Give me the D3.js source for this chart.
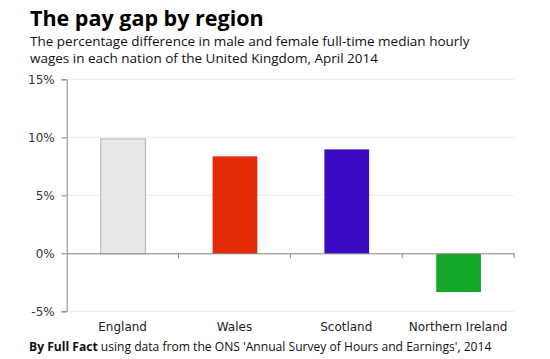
<!DOCTYPE html>
<html><head><meta charset="utf-8">
<script src="https://d3js.org/d3.v7.min.js"></script>
<style>body{margin:0;background:#fff}svg{display:block}</style>
</head><body>
<script>
const categories = ["England", "Wales", "Scotland", "Northern Ireland"];
const values = [9.9, 8.4, 9.0, -3.3];
const colors = ["#e8e8e8", "#e52a0a", "#3a0ac4", "#13a829"];
const strokes = ["#bdbdbd", "none", "none", "none"];
const yTicks = [-5, 0, 5, 10, 15];

const W = 550, H = 359;
const svg = d3.select("body").append("svg").attr("width", W).attr("height", H);

const x = d3.scaleBand().domain(categories).range([66.7, 514]).paddingInner(0.6).paddingOuter(0.3);
const y = d3.scaleLinear().domain([-5, 15]).range([311.3, 79.3]);

// gridlines
svg.append("g").selectAll("line").data(yTicks).join("line")
  .attr("x1", 66.7).attr("x2", 514)
  .attr("y1", d => y(d)).attr("y2", d => y(d))
  .attr("stroke", "#ececec").attr("stroke-width", 1);

// bars
svg.append("g").selectAll("rect").data(categories).join("rect")
  .attr("x", d => x(d) + 0.5)
  .attr("width", x.bandwidth())
  .attr("y", (d, i) => y(Math.max(0, values[i])) + 0.5)
  .attr("height", (d, i) => Math.abs(y(values[i]) - y(0)))
  .attr("fill", (d, i) => colors[i])
  .attr("stroke", (d, i) => strokes[i])
  .attr("stroke-width", 1.2);

// y axis
const yAxis = svg.append("g").attr("transform", "translate(66.7,0)")
  .call(d3.axisLeft(y).tickValues(yTicks).tickFormat(d => d + "%").tickSizeOuter(0).tickSize(5));
yAxis.select(".domain").attr("stroke", "#888");
yAxis.selectAll(".tick line").attr("stroke", "#888");
yAxis.selectAll(".tick text").attr("fill", "#333").attr("font-family", "DejaVu Sans, Verdana, sans-serif").attr("font-size", 12).attr("x", -12);

// x axis at zero
const xb = d3.scaleBand().domain(categories).range([66.7, 514]);
const xAxis = svg.append("g").attr("transform", `translate(0,${y(0)})`)
  .call(d3.axisBottom(xb).tickSize(0).tickSizeOuter(0));
xAxis.select(".domain").attr("stroke", "#888");
xAxis.selectAll(".tick text").remove();
// category separator ticks
svg.append("g").selectAll("line").data(categories).join("line")
  .attr("x1", d => xb(d) + xb.bandwidth()).attr("x2", d => xb(d) + xb.bandwidth())
  .attr("y1", y(0)).attr("y2", y(0) + 5)
  .attr("stroke", "#888");

// category labels
svg.append("g").selectAll("text").data(categories).join("text")
  .attr("x", d => xb(d) + xb.bandwidth() / 2)
  .attr("y", 331)
  .attr("text-anchor", "middle")
  .attr("font-family", "DejaVu Sans, Verdana, sans-serif")
  .attr("font-size", 12)
  .attr("fill", "#222")
  .text(d => d);

// titles
svg.append("text").attr("x", 30).attr("y", 26)
  .attr("font-family", "Open Sans, sans-serif").attr("font-weight", "bold").attr("font-size", 21.5)
  .attr("fill", "#000").text("The pay gap by region");
svg.append("text").attr("x", 30).attr("y", 46)
  .attr("font-family", "Open Sans, sans-serif").attr("font-size", 13.5).attr("fill", "#111")
  .text("The percentage difference in male and female full-time median hourly");
svg.append("text").attr("x", 30).attr("y", 63)
  .attr("font-family", "Open Sans, sans-serif").attr("font-size", 13.5).attr("fill", "#111")
  .text("wages in each nation of the United Kingdom, April 2014");

const foot = svg.append("text").attr("x", 29).attr("y", 351)
  .attr("font-family", "Open Sans, sans-serif").attr("font-size", 12.1).attr("fill", "#111");
foot.append("tspan").attr("font-weight", "bold").text("By Full Fact");
foot.append("tspan").text(" using data from the ONS 'Annual Survey of Hours and Earnings', 2014");
</script>
</body></html>
